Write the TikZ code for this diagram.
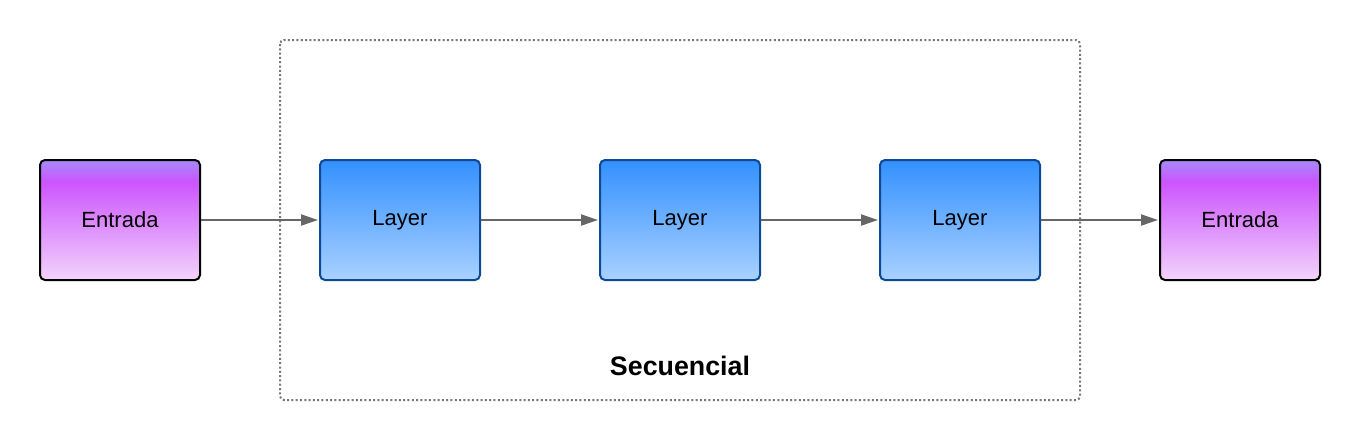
\documentclass[tikz,border=0pt]{standalone}
\usepackage{fontspec}
\setmainfont{Liberation Sans}
\usetikzlibrary{arrows.meta}
\definecolor{entrtop}{HTML}{A68AFB}
\definecolor{entrmid}{HTML}{CC55FE}
\definecolor{entrbot}{HTML}{F2D4FB}
\definecolor{laytop}{HTML}{3390FF}
\definecolor{laybot}{HTML}{A9D1FF}
\definecolor{layborder}{HTML}{0E4A94}
\definecolor{arrowgray}{HTML}{666666}
\definecolor{dotgray}{HTML}{777777}
\pgfdeclareverticalshading{entrshade}{100bp}{color(0bp)=(entrbot); color(25bp)=(entrbot); color(66bp)=(entrmid); color(75bp)=(entrtop); color(100bp)=(entrtop)}
\pgfdeclareverticalshading{layshade}{100bp}{color(0bp)=(laybot); color(25bp)=(laybot); color(75bp)=(laytop); color(100bp)=(laytop)}
\tikzset{
  entrbox/.style={draw=black, line width=2pt, rounded corners=5pt, shading=entrshade, minimum width=160pt, minimum height=120pt, font=\fontsize{22}{24}\selectfont, text=black, inner sep=0pt},
  laybox/.style={draw=layborder, line width=2pt, rounded corners=5pt, shading=layshade, minimum width=160pt, minimum height=120pt, font=\fontsize{22}{24}\selectfont, text=black, inner sep=0pt},
  conn/.style={draw=arrowgray, line width=2pt, -{Triangle[length=17pt,width=11pt]}, shorten >=1pt},
  groupbox/.style={draw=dotgray, line width=2pt, dash pattern=on 2pt off 2.3pt, rounded corners=4pt}
}
\begin{document}
\begin{tikzpicture}[x=1pt,y=-1pt]
\useasboundingbox (0,0) rectangle (1360,440);
\fill[white] (0,0) rectangle (1360,440);
\draw[groupbox] (280,40) rectangle (1080,400);
\node[entrbox] (in) at (120,220) {Entrada};
\node[laybox] (l1) at (400,220) {Layer};
\node[laybox] (l2) at (680,220) {Layer};
\node[laybox] (l3) at (960,220) {Layer};
\node[entrbox] (out) at (1240,220) {Entrada};
\node[font=\bfseries\fontsize{26.8}{30}\selectfont, text=black] (seq) at (680,366) {Secuencial};
\draw[conn] (in.east) -- (l1.west);
\draw[conn] (l1.east) -- (l2.west);
\draw[conn] (l2.east) -- (l3.west);
\draw[conn] (l3.east) -- (out.west);
\end{tikzpicture}
\end{document}
